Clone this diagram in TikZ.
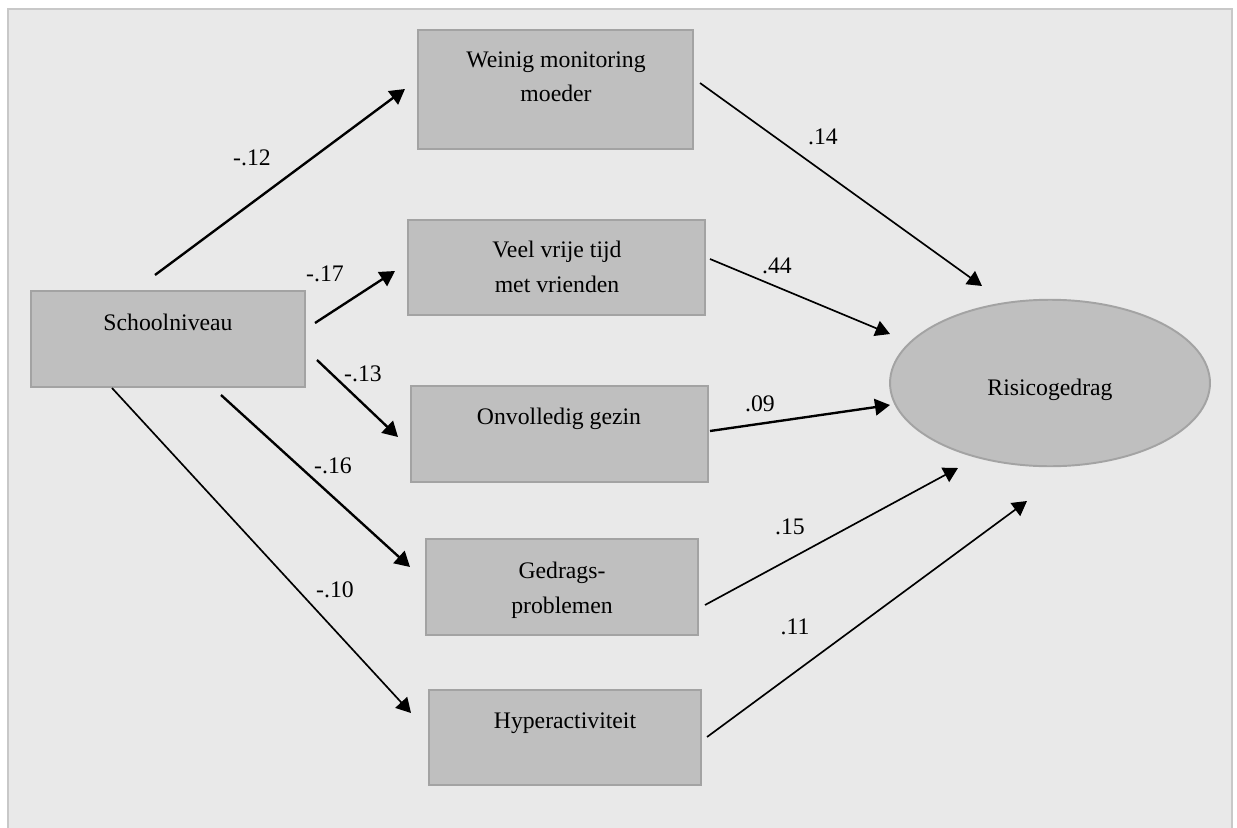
\documentclass[tikz,border=0pt]{standalone}
\usepackage{fontspec}
\setmainfont{Liberation Serif}
\usetikzlibrary{arrows.meta,fit,shapes.geometric}
\definecolor{panel}{RGB}{233,233,233}
\definecolor{panelline}{RGB}{200,200,200}
\definecolor{boxfill}{RGB}{191,191,191}
\definecolor{boxline}{RGB}{163,163,163}
\tikzset{
  varbox/.style={draw=boxline, line width=1.1pt, fill=boxfill, rectangle, inner sep=0pt},
  latent/.style={draw=boxline, line width=1.1pt, fill=boxfill, ellipse, inner sep=0pt,
                 minimum width=6.4cm, minimum height=3.33cm},
  txt/.style={font=\fontsize{13.5}{19.4}\selectfont, inner sep=0pt, align=center, anchor=base},
  coef/.style={font=\fontsize{13.5}{16}\selectfont, inner sep=0pt, anchor=center},
  thickpath/.style={-{Triangle[length=0.30cm,width=0.33cm]}, line width=1.35pt, black},
  thinpath/.style={-{Triangle[length=0.29cm,width=0.32cm]}, line width=0.95pt, black},
}
\begin{document}
\begin{tikzpicture}[x=0.02cm, y=-0.02cm]
\useasboundingbox (0,0) rectangle (1237,828);
\clip (0,0) rectangle (1237,828);
\fill[white] (0,0) rectangle (1237,828);
% background panel
\draw[panelline, line width=0.85pt, fill=panel] (8,9) rectangle (1232,850);

% observed variables
\node[varbox, fit={(31,291) (305,387)}] (school) {};
\node[varbox, fit={(418,30) (693,149)}] (monitor) {};
\node[varbox, fit={(408,220) (705,315)}] (vrij) {};
\node[varbox, fit={(411,386) (708,482)}] (gezin) {};
\node[varbox, fit={(426,539) (698,635)}] (gedrag) {};
\node[varbox, fit={(429,690) (701,785)}] (hyper) {};
% outcome
\node[latent] (risico) at (1050,383) {};

% variable names (anchored at the baseline of the last line)
\node[txt] (schooltxt) at (168,330) {Schoolniveau};
\node[txt] (monitortxt) at (556,102) {Weinig monitoring\\moeder};
\node[txt] (vrijtxt) at (557,292) {Veel vrije tijd\\met vrienden};
\node[txt] (gezintxt) at (559,424) {Onvolledig gezin};
\node[txt] (gedragtxt) at (562,613) {Gedrags-\\problemen};
\node[txt] (hypertxt) at (565,728) {Hyperactiviteit};
\node[txt] (risicotxt) at (1050,395) {Risicogedrag};

% arrow end points
\coordinate (a1s) at (155,275);  \coordinate (a1e) at (405,89);
\coordinate (a2s) at (315,323);  \coordinate (a2e) at (395,271);
\coordinate (a3s) at (317,360);  \coordinate (a3e) at (398,437);
\coordinate (a4s) at (221,395);  \coordinate (a4e) at (410,567);
\coordinate (a5s) at (112,388);  \coordinate (a5e) at (411,713);
\coordinate (b1s) at (700,83);   \coordinate (b1e) at (982,286);
\coordinate (b2s) at (710,259);  \coordinate (b2e) at (890,334);
\coordinate (b3s) at (710,431);  \coordinate (b3e) at (890,405);
\coordinate (b4s) at (705,605);  \coordinate (b4e) at (958,468);
\coordinate (b5s) at (707,737);  \coordinate (b5e) at (1027,501);

% paths from Schoolniveau
\draw[thickpath] (a1s) -- (a1e);
\draw[thickpath] (a2s) -- (a2e);
\draw[thickpath] (a3s) -- (a3e);
\draw[thickpath] (a4s) -- (a4e);
\draw[thinpath]  (a5s) -- (a5e);
% paths to Risicogedrag
\draw[thinpath]  (b1s) -- (b1e);
\draw[thinpath]  (b2s) -- (b2e);
\draw[thickpath] (b3s) -- (b3e);
\draw[thinpath]  (b4s) -- (b4e);
\draw[thinpath]  (b5s) -- (b5e);

% path coefficients
\node[coef] (c1) at (252,158) {-.12};
\node[coef] (c2) at (325,274) {-.17};
\node[coef] (c3) at (363,374) {-.13};
\node[coef] (c4) at (333,466) {-.16};
\node[coef] (c5) at (335,590) {-.10};
\node[coef] (d1) at (823,137) {.14};
\node[coef] (d2) at (777,266) {.44};
\node[coef] (d3) at (760,404) {.09};
\node[coef] (d4) at (790,527) {.15};
\node[coef] (d5) at (795,627) {.11};
\end{tikzpicture}
\end{document}
